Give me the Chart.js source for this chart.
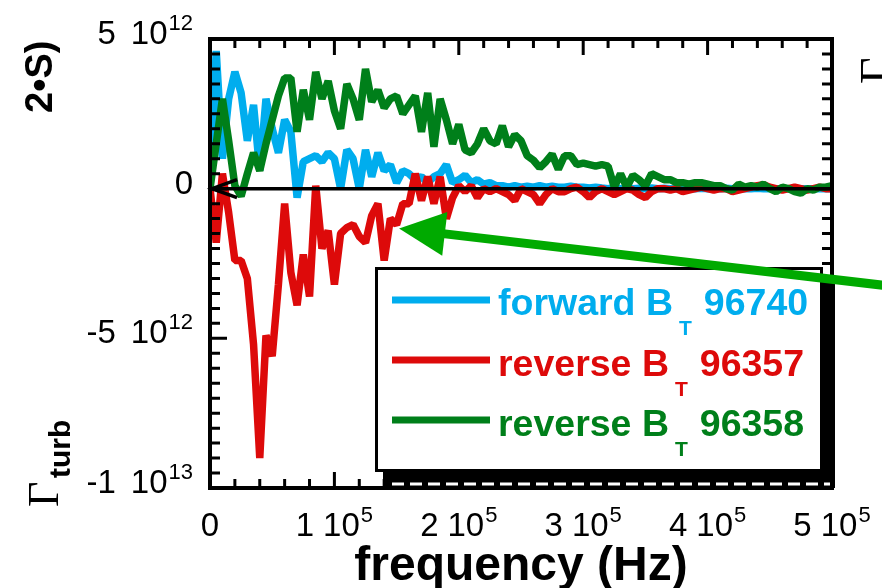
<!DOCTYPE html>
<html>
<head>
<meta charset="utf-8">
<script src="https://cdn.jsdelivr.net/npm/chart.js@4.4.1/dist/chart.umd.min.js"></script>
<style>
  html, body { margin: 0; padding: 0; background: #fff; }
  canvas { display: block; }
</style>
</head>
<body>
<canvas id="fluxChart" width="882" height="588"></canvas>
<script>
// values are in units of 1e12
const UNIT = 1e12;

const freqKHz = [
  0, 5, 10, 15, 20, 25, 30, 35, 40, 45, 50, 55, 60, 65, 70, 75, 80, 85, 90, 95,
  100, 105, 110, 115, 120, 125, 130, 135, 140, 145, 150, 155, 160, 165, 170, 175, 180, 185, 190, 195,
  200, 205, 210, 215, 220, 225, 230, 235, 240, 245, 250, 255, 260, 265, 270, 275, 280, 285, 290, 295,
  300, 305, 310, 315, 320, 325, 330, 335, 340, 345, 350, 355, 360, 365, 370, 375, 380, 385, 390, 395,
  400, 405, 410, 415, 420, 425, 430, 435, 440, 445, 450, 455, 460, 465, 470, 475, 480, 485, 490, 495,
  500
];

const forward96740 = [
  0, 4.6, 1.0, 3.0, 3.9, 3.2, 1.6, 2.8, 0.6, 3.0,
  2.0, 1.2, 2.3, 1.9, -0.3, 0.9, 1.0, 1.1, 0.9, 1.2,
  1.0, 0.0, 1.3, 1.0, 0.0, 1.3, 0.4, 1.2, 0.6, 0.8,
  0.2, 0.6, 0.5, 0.3, 0.4, 0.2, 0.4, 0.5, 0.8, 0.2,
  0.3, 0.45, 0.2, 0.3, 0.15, 0.2, 0.1, 0.1, 0.05, 0.1,
  0.05, 0.08, 0.05, 0.1, 0.05, 0.08, 0.05, 0.05, 0.08, 0.05,
  0.05, 0.02, 0.05, 0.02, 0, 0.03, 0, 0.02, 0, 0.01,
  0, 0.02, 0, 0.01, 0, 0, 0.01, 0, 0, 0.01,
  0, 0, 0, 0.01, 0, 0, 0, 0, 0.01, 0,
  0, 0, 0, 0, 0, 0, 0, 0, 0, 0,
  0
];

const reverse96357 = [
  0, -1.8, 0.5, -0.8, -2.4, -2.4, -3.0, -5.2, -9.0, -4.9,
  -5.6, -3.2, -0.5, -2.8, -3.9, -2.2, -3.6, 0.1, -2.0, -1.4,
  -3.2, -1.5, -1.3, -1.2, -1.6, -1.8, -0.9, -0.5, -2.4, -1.0,
  -1.2, -0.5, -0.5, 0.5, -0.4, 0.4, -0.5, 0.4, -1.0, -0.3,
  0.1, -0.1, 0.1, -0.3, 0.0, -0.1, 0.0, -0.1, -0.2, -0.4,
  0.0, -0.1, -0.2, -0.5, -0.2, 0.0, -0.1, -0.1, 0.0, 0.05,
  -0.1, -0.3, -0.1, 0.0, -0.1, -0.2, -0.1, 0.0, -0.05, -0.2,
  -0.3, -0.1, 0.0, 0.0, -0.05, 0.0, -0.1, -0.05, 0.0, 0.05,
  0.0, -0.05, 0.0, 0.0, -0.1, -0.05, 0.0, 0.05, 0.1, 0.13,
  0.05, 0.0, -0.05, 0.0, 0.05, 0.0, -0.05, 0.0, 0.05, 0.0,
  0.0
];

const reverse96358 = [
  0, 1.5, 3.0, 1.6, 0.1, -0.25, 0.5, 1.2, 0.6, 1.5,
  2.3, 3.1, 3.7, 3.7, 1.9, 3.3, 2.3, 3.9, 3.0, 3.6,
  2.6, 2.0, 3.5, 3.0, 2.3, 4.0, 2.9, 3.3, 2.7, 3.0,
  3.1, 2.5, 2.8, 3.1, 1.9, 3.2, 1.4, 3.0, 2.3, 1.5,
  2.15, 1.3, 1.2, 1.5, 2.0, 1.6, 1.5, 2.1, 1.4, 1.8,
  1.6, 1.1, 0.95, 0.7, 0.9, 1.15, 0.65, 1.1, 1.1, 0.8,
  0.85, 0.8, 0.75, 0.8, 0.75, 0.05, 0.5, 0.05, 0.45, 0.3,
  0.1, 0.5, 0.4, 0.3, 0.3, 0.2, 0.2, 0.15, 0.2, 0.2,
  0.15, 0.1, 0.1, 0.0, -0.05, 0.15, 0.05, 0.1, 0.05, 0.15,
  0.0, -0.1, 0.05, 0.0, -0.1, -0.15, 0.0, -0.05, 0.05, 0.05,
  0.1
];

const seriesNames = ['forward B', 'reverse B', 'reverse B'];
const seriesSub = ['T', 'T', 'T'];
const shotNumbers = ['96740', '96357', '96358'];
const seriesColors = ['#00adee', '#dd0a0a', '#007f1a'];

const yTickValues = [5e12, 0, -5e12, -1e13];
const yTickMant = ['5', '0', '-5', '-1'];
const yTickExp = ['12', '', '12', '13'];
const xTickValues = [0, 1e5, 2e5, 3e5, 4e5, 5e5];
const xTickMant = ['0', '1', '2', '3', '4', '5'];
const xTickExp = ['', '5', '5', '5', '5', '5'];

// annotation arrow, in data coordinates
const arrowTip = { x: 1.52e5, y: -1.33e12 };
const arrowTail = { x: 5.5e5, y: -3.27e12 };

const SANS = '"Liberation Sans", Arial, sans-serif';
const SERIF = '"Liberation Serif", "Times New Roman", serif';

function toPoints(vals) {
  return vals.map((v, i) => ({ x: freqKHz[i] * 1000, y: v * UNIT }));
}

function sciLabel(ctx, mant, exp, x, baseline, align, gap) {
  ctx.fillStyle = '#000';
  ctx.textAlign = 'left';
  ctx.textBaseline = 'alphabetic';
  ctx.font = '33px ' + SANS;
  const mw = ctx.measureText(mant).width;
  if (!exp) {
    const x0 = align === 'right' ? x - mw : x - mw / 2;
    ctx.fillText(mant, x0, baseline);
    return;
  }
  const tw = ctx.measureText('10').width;
  ctx.font = '22px ' + SANS;
  const ew = ctx.measureText(exp).width;
  const total = mw + gap + tw + 1 + ew;
  const x0 = align === 'right' ? x - total : x - total / 2;
  ctx.font = '33px ' + SANS;
  ctx.fillText(mant, x0, baseline);
  ctx.fillText('10', x0 + mw + gap, baseline);
  ctx.font = '22px ' + SANS;
  ctx.fillText(exp, x0 + mw + gap + tw + 1, baseline - 14);
}

function rotText(ctx, text, font, x, y) {
  ctx.save();
  ctx.translate(x, y);
  ctx.rotate(-Math.PI / 2);
  ctx.font = font;
  ctx.textAlign = 'left';
  ctx.textBaseline = 'alphabetic';
  ctx.fillStyle = '#000';
  ctx.fillText(text, 0, 0);
  ctx.restore();
}

const decor = {
  id: 'decor',
  beforeDraw(chart) {
    const ctx = chart.ctx;
    ctx.save();
    ctx.fillStyle = '#fff';
    ctx.fillRect(0, 0, chart.width, chart.height);
    ctx.restore();
  },
  afterDatasetsDraw(chart) {
    const ctx = chart.ctx;
    const a = chart.chartArea;
    const xs = chart.scales.x, ys = chart.scales.y;
    ctx.save();

    // zero line with open arrowhead at the left
    const y0 = ys.getPixelForValue(0);
    ctx.strokeStyle = '#000';
    ctx.lineWidth = 3.5;
    ctx.beginPath();
    ctx.moveTo(a.left, y0);
    ctx.lineTo(a.right, y0);
    ctx.stroke();
    ctx.beginPath();
    ctx.moveTo(a.left + 27, y0 - 9);
    ctx.lineTo(a.left + 2, y0);
    ctx.lineTo(a.left + 27, y0 + 9);
    ctx.stroke();

    // inward ticks
    ctx.lineWidth = 3;
    ctx.beginPath();
    for (let v = -1e13; v <= 5e12 + 1; v += 5e11) {
      const py = ys.getPixelForValue(v);
      const major = Math.abs(v % 5e12) < 1;
      const len = major ? 17 : 10;
      ctx.moveTo(a.left, py); ctx.lineTo(a.left + len, py);
      ctx.moveTo(a.right, py); ctx.lineTo(a.right - len, py);
    }
    for (let f = 0; f <= 5e5 + 1; f += 2e4) {
      const px = xs.getPixelForValue(f);
      const major = Math.abs(f % 1e5) < 1;
      const len = major ? 16 : 9;
      ctx.moveTo(px, a.top); ctx.lineTo(px, a.top + len);
      ctx.moveTo(px, a.bottom); ctx.lineTo(px, a.bottom - len);
    }
    ctx.stroke();

    // frame
    ctx.lineWidth = 4;
    ctx.strokeRect(a.left, a.top, a.right - a.left, a.bottom - a.top);

    // tick labels
    yTickValues.forEach((v, i) => {
      sciLabel(ctx, yTickMant[i], yTickExp[i], 193, ys.getPixelForValue(v) + 5, 'right', 15);
    });
    xTickValues.forEach((v, i) => {
      sciLabel(ctx, xTickMant[i], xTickExp[i], xs.getPixelForValue(v), 536, 'center', 9);
    });

    // x title
    ctx.font = 'bold 48px ' + SANS;
    ctx.textAlign = 'center';
    ctx.fillStyle = '#000';
    ctx.fillText('frequency (Hz)', (a.left + a.right) / 2, 580);

    // y title fragments
    rotText(ctx, 'Γ', '44px ' + SERIF, 58, 507);
    rotText(ctx, 'turb', 'bold 30px ' + SANS, 70, 478);
    rotText(ctx, '2•S)', 'bold 38px ' + SANS, 52, 113);
    rotText(ctx, 'Γ', '46px ' + SERIF, 892, 84);

    // legend box with drop shadow
    ctx.fillStyle = '#000';
    ctx.fillRect(383, 275, 452, 213);
    ctx.fillStyle = '#fff';
    ctx.fillRect(375, 267, 448, 205);
    ctx.strokeStyle = '#000';
    ctx.lineWidth = 3;
    ctx.strokeRect(376.5, 268.5, 445, 202);
    ctx.strokeStyle = '#fff';
    ctx.setLineDash([12, 6]);
    ctx.beginPath();
    ctx.moveTo(392, 484); ctx.lineTo(830, 484);
    ctx.stroke();
    ctx.setLineDash([]);

    seriesNames.forEach((name, i) => {
      const ly = 300 + 60 * i;
      const base = 315 + 60.5 * i;
      ctx.strokeStyle = seriesColors[i];
      ctx.lineWidth = 7;
      ctx.beginPath();
      ctx.moveTo(392, ly); ctx.lineTo(490, ly);
      ctx.stroke();
      ctx.fillStyle = seriesColors[i];
      ctx.textAlign = 'left';
      ctx.font = 'bold 37.5px ' + SANS;
      ctx.fillText(name, 498, base);
      const nw = ctx.measureText(name).width;
      ctx.font = 'bold 21px ' + SANS;
      ctx.fillText(seriesSub[i], 498 + nw + 6, base + 20);
      const sw = ctx.measureText(seriesSub[i]).width;
      ctx.font = 'bold 37.5px ' + SANS;
      ctx.fillText(shotNumbers[i], 498 + nw + 6 + sw + 12, base);
    });

    // green annotation arrow
    const tx = xs.getPixelForValue(arrowTip.x), ty = ys.getPixelForValue(arrowTip.y);
    const sx = xs.getPixelForValue(arrowTail.x), sy = ys.getPixelForValue(arrowTail.y);
    const len = Math.hypot(sx - tx, sy - ty);
    const ux = (sx - tx) / len, uy = (sy - ty) / len;
    const hl = 46, hw = 22;
    const bx = tx + ux * hl, by = ty + uy * hl;
    ctx.strokeStyle = '#00aa00';
    ctx.fillStyle = '#00aa00';
    ctx.lineWidth = 9;
    ctx.beginPath();
    ctx.moveTo(bx - ux * 4, by - uy * 4);
    ctx.lineTo(sx, sy);
    ctx.stroke();
    ctx.beginPath();
    ctx.moveTo(tx, ty);
    ctx.lineTo(bx - uy * hw, by + ux * hw);
    ctx.lineTo(bx + uy * hw, by - ux * hw);
    ctx.closePath();
    ctx.fill();

    ctx.restore();
  }
};

const seriesData = [forward96740, reverse96357, reverse96358];
const drawOrder = [2, 1, 0];

new Chart(document.getElementById('fluxChart'), {
  type: 'line',
  data: {
    datasets: seriesData.map((vals, i) => ({
      label: seriesNames[i] + seriesSub[i] + ' ' + shotNumbers[i],
      data: toPoints(vals),
      borderColor: seriesColors[i],
      borderWidth: 7.5,
      borderJoinStyle: 'bevel',
      pointRadius: 0,
      tension: 0,
      fill: false,
      order: drawOrder[i]
    }))
  },
  options: {
    responsive: false,
    animation: false,
    layout: { padding: { left: 210, right: 50, top: 39, bottom: 100 } },
    plugins: { legend: { display: false }, tooltip: { enabled: false } },
    scales: {
      x: { type: 'linear', min: 0, max: 5e5, display: false },
      y: { type: 'linear', min: -1e13, max: 5e12, display: false }
    }
  },
  plugins: [decor]
});
</script>
</body>
</html>
